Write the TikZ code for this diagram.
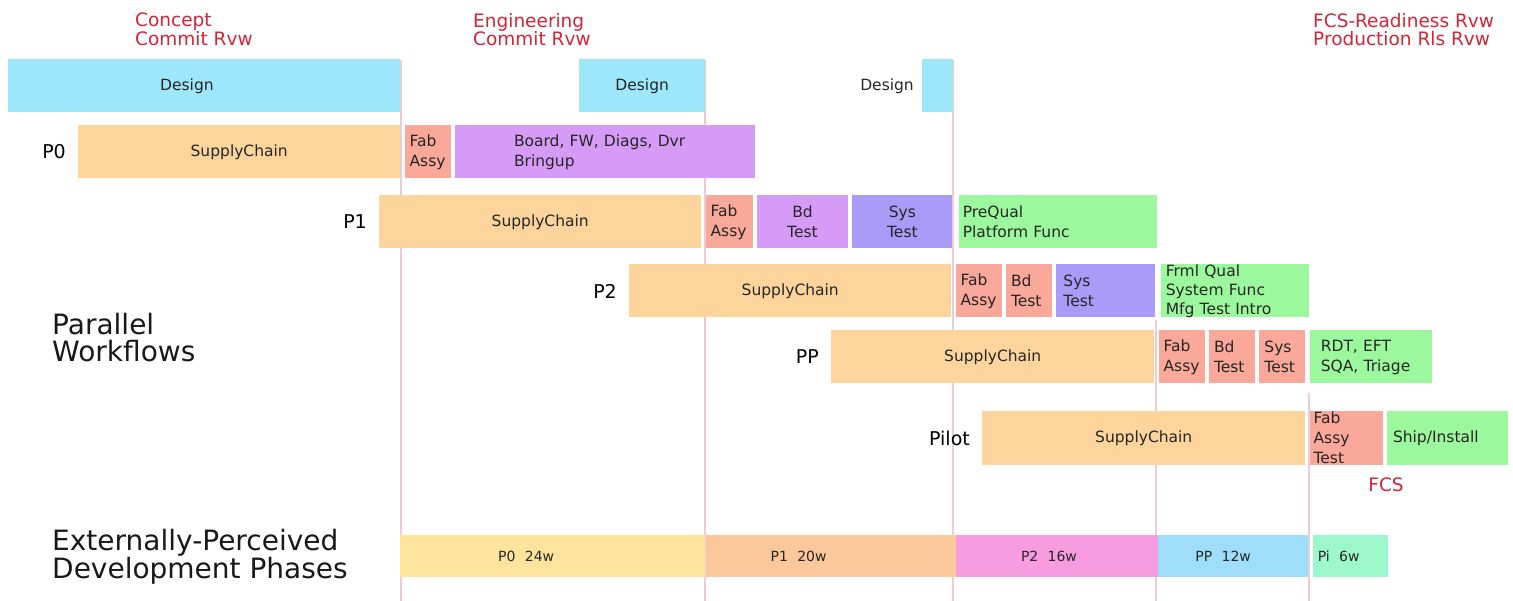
\documentclass[tikz,border=0pt]{standalone}
\usepackage{fontspec}
\setmainfont{DejaVu Sans}
\usetikzlibrary{positioning}

\definecolor{dsgn}{HTML}{9DE7FA}
\definecolor{supply}{HTML}{FCD49C}
\definecolor{fab}{HTML}{F9A89A}
\definecolor{brd}{HTML}{D59BF6}
\definecolor{sys}{HTML}{A99BF7}
\definecolor{qual}{HTML}{9CF89C}
\definecolor{rvwred}{HTML}{D42435}
\definecolor{mlinecol}{HTML}{EDCCD3}
\definecolor{phzero}{HTML}{FDE49C}
\definecolor{phone}{HTML}{FBC89C}
\definecolor{phtwo}{HTML}{F89CE0}
\definecolor{phpp}{HTML}{9EDEFA}
\definecolor{phpi}{HTML}{9CF8CA}

\begin{document}
\begin{tikzpicture}[
  x=1pt, y=-1pt,
  cell/.style={rectangle, inner sep=0pt, minimum height=53pt, anchor=west,
               text=black!85, font=\fontsize{15.5}{20}\selectfont},
  cbar/.style={cell, align=center},
  lbar/.style={cell, align=left, inner xsep=5pt},
  sc/.style={cbar, fill=supply, minimum width=322pt},
  dbox/.style={cell, fill=dsgn},
  phase/.style={lbar, minimum height=42pt, font=\fontsize{14}{16}\selectfont},
  row/.style={inner sep=0pt, font=\fontsize{19}{22}\selectfont},
  milestone/.style={inner sep=0pt, anchor=north west, align=left, text=rvwred,
                    font=\fontsize{18.5}{18.5}\selectfont},
  heading/.style={inner sep=0pt, anchor=north west, align=left, text=black!90,
                  font=\fontsize{28}{27}\selectfont},
  mline/.style={draw=mlinecol, line width=1.5pt}
]
\useasboundingbox (0,0) rectangle (1513,601);

% review milestones
\draw[mline] (401,60) -- (401,601);
\draw[mline] (705,60) -- (705,601);
\draw[mline] (953,60) -- (953,601);
\draw[mline] (1156,320) -- (1156,601);
\draw[mline] (1309,393) -- (1309,601);

\node[milestone] (ccr) at (135,13) {Concept\\Commit Rvw};
\node[milestone] (ecr) at (473,13) {Engineering\\Commit Rvw};
\node[milestone] (fcsr) at (1313,13) {FCS-Readiness Rvw\\Production Rls Rvw};

% design
\node[dbox, lbar, fill=dsgn, inner xsep=152pt, text width=88pt] (des1) at (8,86) {Design};
\node[dbox, cbar, minimum width=126pt] (des2) at (579,86) {Design};
\node[dbox, minimum width=31pt] (des3) at (922,86) {};
\node[cell, minimum height=0pt, left=8pt of des3] (des3txt) {Design};

% P0
\node[sc] (sc0) at (78,152) {SupplyChain};
\node[row, left=12pt of sc0] (p0) {P0};
\node[lbar, fill=fab, text width=36pt, right=4pt of sc0] (fab0) {Fab\\Assy};
\node[lbar, fill=brd, inner xsep=59pt, text width=182pt, right=4pt of fab0] (brd0)
  {Board, FW, Diags, Dvr\\Bringup};

% P1
\node[sc] (sc1) at (379,222) {SupplyChain};
\node[row, left=12pt of sc1] (p1) {P1};
\node[lbar, fill=fab, text width=37pt, right=4pt of sc1] (fab1) {Fab\\Assy};
\node[cbar, fill=brd, minimum width=91pt, right=4pt of fab1] (bd1) {Bd\\Test};
\node[cbar, fill=sys, minimum width=100pt, right=4pt of bd1] (sys1) {Sys\\Test};
\node[lbar, fill=qual, inner xsep=4pt, text width=190pt, right=6pt of sys1] (pq1)
  {PreQual\\Platform Func};

% P2
\node[sc] (sc2) at (629,291) {SupplyChain};
\node[row, left=12pt of sc2] (p2) {P2};
\node[lbar, fill=fab, text width=36pt, right=4pt of sc2] (fab2) {Fab\\Assy};
\node[lbar, fill=fab, text width=36pt, right=4pt of fab2] (bd2) {Bd\\Test};
\node[lbar, fill=sys, inner xsep=7pt, text width=85pt, right=4pt of bd2] (sys2) {Sys\\Test};
\node[lbar, fill=qual, text width=138pt, font=\fontsize{15.5}{19}\selectfont,
      right=5pt of sys2] (fq2) {Frml Qual\\System Func\\Mfg Test Intro};

% PP
\node[sc, minimum width=323pt] (scp) at (831,357) {SupplyChain};
\node[row, left=12pt of scp] (pp) {PP};
\node[lbar, fill=fab, text width=36pt, right=4pt of scp] (fabp) {Fab\\Assy};
\node[lbar, fill=fab, text width=36pt, right=4pt of fabp] (bdp) {Bd\\Test};
\node[lbar, fill=fab, text width=36pt, right=4pt of bdp] (sysp) {Sys\\Test};
\node[lbar, fill=qual, inner xsep=11pt, text width=100pt, right=4pt of sysp] (rdtp)
  {RDT, EFT\\SQA, Triage};

% Pilot
\node[sc, minimum width=323pt] (scl) at (982,438) {SupplyChain};
\node[row, left=12pt of scl] (pl) {Pilot};
\node[lbar, fill=fab, inner xsep=4pt, text width=65pt, right=4pt of scl] (fabl)
  {Fab\\Assy\\Test};
\node[lbar, fill=qual, inner xsep=6pt, text width=109pt, right=4pt of fabl] (shpl)
  {Ship/Install};
\node[milestone, anchor=center] (fcs) at (1386,485) {FCS};

% phases as seen from outside
\node[phase, fill=phzero, inner xsep=98pt, text width=109pt] (ph0) at (400,556) {P0\ \ 24w};
\node[phase, fill=phone, inner xsep=65pt, text width=120pt, right=0pt of ph0] (ph1) {P1\ \ 20w};
\node[phase, fill=phtwo, inner xsep=65pt, text width=72pt, right=0pt of ph1] (ph2) {P2\ \ 16w};
\node[phase, fill=phpp, inner xsep=37pt, text width=76pt, right=0pt of ph2] (ph3) {PP\ \ 12w};
\node[phase, fill=phpi, text width=65pt, right=4pt of ph3] (ph4) {Pi\ \ 6w};

\node[heading] (pw) at (52,313) {Parallel\\Workflows};
\node[heading] (epd) at (52,529) {Externally-Perceived\\Development Phases};
\end{tikzpicture}
\end{document}
